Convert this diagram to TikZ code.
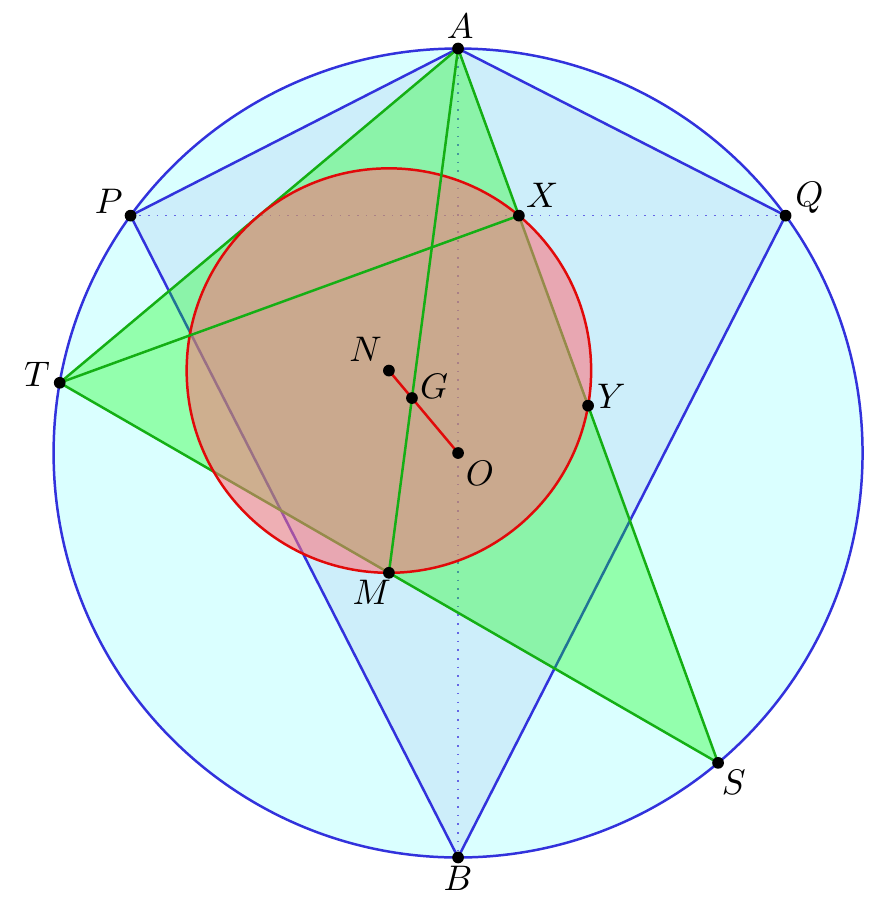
\documentclass[tikz,border=0pt]{standalone}
\usetikzlibrary{calc}
\definecolor{cbase}{RGB}{218,255,255}
\definecolor{cquad}{RGB}{205,238,250}
\definecolor{cblue}{RGB}{50,50,220}
\definecolor{cgreen}{RGB}{20,175,20}
\definecolor{cred}{RGB}{225,10,10}
\definecolor{cpink}{RGB}{255,110,120}
\begin{document}
\begin{tikzpicture}[
  bluel/.style={draw=cblue, line width=0.7pt},
  greenl/.style={draw=cgreen, line width=0.7pt},
  redl/.style={draw=cred, line width=0.7pt},
  dotl/.style={draw=cblue!75, dotted, line width=0.45pt},
  lbl/.style={anchor=base, inner sep=0pt}
]
\useasboundingbox (-4.53,-4.45) rectangle (4.095,4.48);
% points
\coordinate (O) at (0,0);
\coordinate (A) at (90:4);
\coordinate (B) at (-90:4);
\coordinate (T) at (170:4);
\coordinate (S) at (-50:4);
\coordinate (M) at ($(T)!0.5!(S)$);
\coordinate (Y) at ($(A)!0.5!(S)$);
\coordinate (X) at ($(A)!(T)!(S)$);
\coordinate (G) at (barycentric cs:A=1,T=1,S=1);
\coordinate (N) at ($0.5*(A)+0.5*(T)+0.5*(S)$);
\coordinate (P) at (-3.23885,2.34731);
\coordinate (Q) at (3.23885,2.34731);
% circumcircle
\fill[cbase] (O) circle (4);
\draw[bluel] (O) circle (4);
% quadrilateral
\draw[bluel, fill=cquad] (A) -- (Q) -- (B) -- (P) -- cycle;
% dotted
\draw[dotl] (P) -- (Q);
\draw[dotl] (A) -- (B);
% triangle
\draw[greenl, fill=green, fill opacity=0.32] (A) -- (T) -- (S) -- cycle;
% nine-point circle
\draw[redl, fill=cpink, fill opacity=0.55] (N) circle (2);
% cevians
\draw[greenl] (A) -- (M);
\draw[greenl] (T) -- (X);
\draw[redl] (N) -- (O);
% dots
\foreach \p in {A,B,T,S,M,Y,X,G,N,P,Q,O}
  \fill (\p) circle (1.65pt);
% labels
\node[lbl] (lA) at ($(A)+(0.02,0.10)$) {$A$};
\node[lbl] (lB) at ($(B)+(0,-0.33)$) {$B$};
\node[lbl] (lP) at ($(P)+(-0.215,0.02)$) {$P$};
\node[lbl] (lQ) at ($(Q)+(0.235,0.095)$) {$Q$};
\node[lbl] (lX) at ($(X)+(0.23,0.08)$) {$X$};
\node[lbl] (lT) at ($(T)+(-0.225,-0.035)$) {$T$};
\node[lbl] (lN) at ($(N)+(-0.23,0.087)$) {$N$};
\node[lbl] (lG) at ($(G)+(0.22,0)$) {$G$};
\node[lbl] (lO) at ($(O)+(0.215,-0.325)$) {$O$};
\node[lbl] (lY) at ($(Y)+(0.23,-0.03)$) {$Y$};
\node[lbl] (lM) at ($(M)+(-0.17,-0.315)$) {$M$};
\node[lbl] (lS) at ($(S)+(0.155,-0.315)$) {$S$};
\end{tikzpicture}
\end{document}
